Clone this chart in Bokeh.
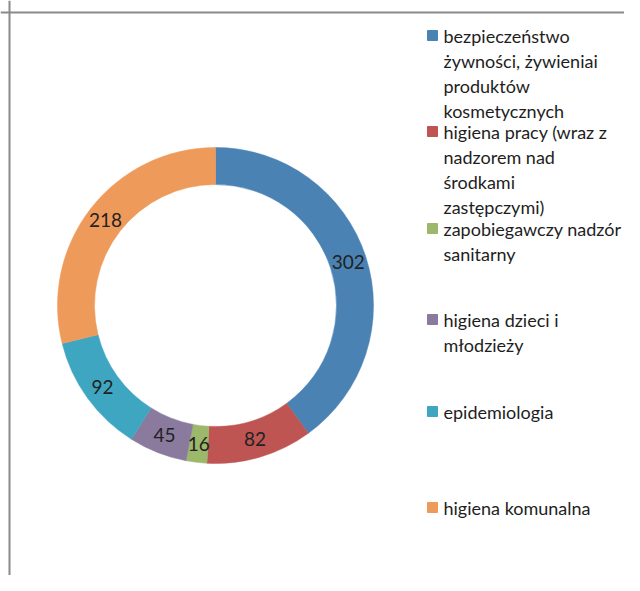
import numpy as np
from bokeh.plotting import figure
from bokeh.models import Range1d, Span, ColumnDataSource
from bokeh.core.properties import value
from bokeh.embed import file_html
from bokeh.resources import INLINE

# ---- data ----
categories = [
    "bezpieczeństwo żywności, żywieniai produktów kosmetycznych",
    "higiena pracy (wraz z nadzorem nad środkami zastępczymi)",
    "zapobiegawczy nadzór sanitarny",
    "higiena dzieci i młodzieży",
    "epidemiologia",
    "higiena komunalna",
]
values = [302, 82, 16, 45, 92, 218]
legend_lines = [
    ["bezpieczeństwo", "żywności, żywieniai", "produktów", "kosmetycznych"],
    ["higiena pracy (wraz z", "nadzorem nad", "środkami", "zastępczymi)"],
    ["zapobiegawczy nadzór", "sanitarny"],
    ["higiena dzieci i", "młodzieży"],
    ["epidemiologia"],
    ["higiena komunalna"],
]
colors = ["#4A82B4", "#BE5552", "#9CB86A", "#8A7A9E", "#3FA6C2", "#EE9A5B"]

# ---- layout (pixel-like coordinates; y measured downward from image top) ----
W, H = 624, 575
PAGE_H = 591
legend_top = [35, 131, 228, 319, 411, 507]
line_step = 25
cx, cy = 215, 305
r_out, r_in = 158, 121
FONT = "Lato"

def Y(y):
    return PAGE_H - y

p = figure(width=W, height=H, output_backend="svg", toolbar_location=None,
           x_range=Range1d(0, W), y_range=Range1d(PAGE_H - H, PAGE_H),
           min_border=0)
p.axis.visible = False
p.grid.visible = False
p.outline_line_color = None
p.background_fill_color = "white"

# border (scan frame)
p.add_layout(Span(location=9, dimension="height", line_color="#8a8a8a", line_width=2))
p.add_layout(Span(location=Y(12), dimension="width", line_color="#8a8a8a", line_width=2))

# donut
vals = np.array(values, dtype=float)
frac = vals / vals.sum()
cum_end = np.cumsum(frac) * 2 * np.pi
cum_start = cum_end - frac * 2 * np.pi
start = np.pi / 2 - cum_end
end = np.pi / 2 - cum_start
mid = (start + end) / 2
src = ColumnDataSource(dict(start=start, end=end, color=colors, cat=categories, val=values))
p.annular_wedge(x=cx, y=Y(cy), inner_radius=r_in, outer_radius=r_out,
                start_angle="start", end_angle="end", fill_color="color",
                line_color="color", line_width=0.5, source=src)

r_lab = (r_in + r_out) / 2
lab = ColumnDataSource(dict(x=cx + r_lab * np.cos(mid), y=Y(cy) + r_lab * np.sin(mid),
                            t=[str(v) for v in values]))
p.text(x="x", y="y", text="t", source=lab, text_align="center", text_baseline="middle",
       text_font=value(FONT), text_font_size="19px", text_color="#222222")

# legend
sx, sy, st = [], [], []
for i, lines in enumerate(legend_lines):
    for j, ln in enumerate(lines):
        sx.append(443)
        sy.append(Y(legend_top[i] + j * line_step))
        st.append(ln)
p.text(x=sx, y=sy, text=st, text_align="left", text_baseline="middle",
       text_font=value(FONT), text_font_size="18px", text_color="#1e1e1e")
p.rect(x=[432] * len(colors), y=[Y(t) for t in legend_top], width=10, height=10,
       fill_color=colors, line_color=colors)

open("out.html", "w").write(file_html(p, INLINE))
